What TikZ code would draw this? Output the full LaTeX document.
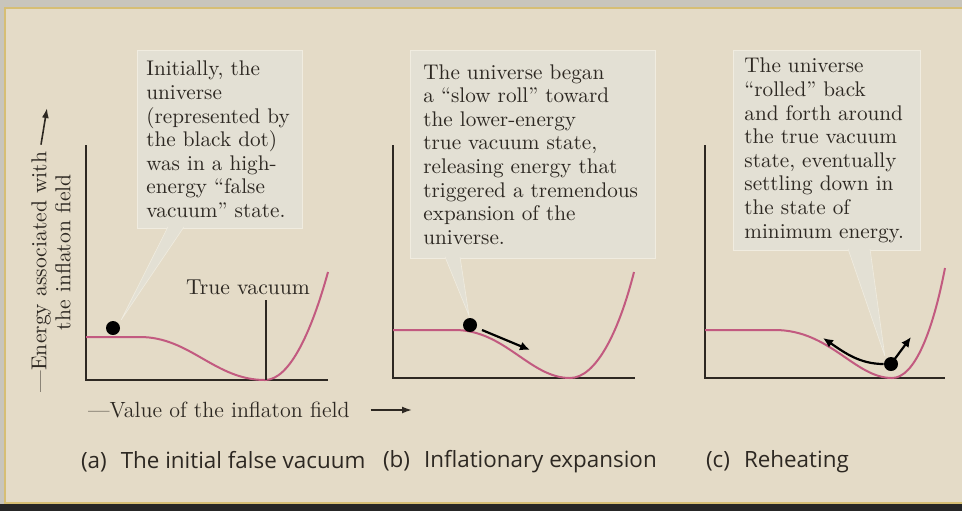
\documentclass[tikz,border=0pt]{standalone}
\usepackage{fontspec}
\newfontfamily\capfont{Open Sans}
\usetikzlibrary{positioning,calc,arrows.meta}
\definecolor{outerbg}{RGB}{200,197,188}
\definecolor{panelbg}{RGB}{228,219,199}
\definecolor{boxbg}{RGB}{227,224,212}
\definecolor{boxline}{RGB}{240,236,224}
\definecolor{rimgold}{RGB}{214,190,116}
\definecolor{potpink}{RGB}{194,90,128}
\definecolor{inkgray}{RGB}{45,40,34}

\begin{document}
\begin{tikzpicture}[x=0.5pt, y=-0.5pt,
    callout/.style={rectangle, draw=boxline, line width=0.4pt, fill=boxbg, anchor=north west, align=left, font=\fontsize{10.6}{11.8}\selectfont, text=inkgray},
    pointer/.style={draw=boxline, fill=boxbg, line width=0.3pt},
    axis/.style={draw=inkgray, line width=0.8pt},
    potential/.style={draw=potpink, line width=1pt},
    ball/.style={circle, fill=black, inner sep=0pt, minimum size=7pt},
    roll/.style={-{Latex[length=5pt,width=4.5pt]}, line width=1.1pt, black},
    axarrow/.style={-{Latex[length=5pt,width=3.5pt]}, line width=0.8pt, inkgray},
    axlabel/.style={font=\fontsize{10.8}{12}\selectfont, text=inkgray},
    caption/.style={anchor=west, font=\capfont\fontsize{11.2}{13}\selectfont, text=inkgray}
]
    \useasboundingbox (0,0) rectangle (962,511);
    % page and panel
    \fill[outerbg] (0,0) rectangle (962,511);
    \fill[black!85] (0,504) rectangle (962,511);
    \filldraw[fill=panelbg, draw=rimgold, line width=1.2pt] (5,8) rectangle (975,503);

    % (a) false vacuum
    \coordinate (a-top) at (86,145);
    \coordinate (a-o) at (86,380);
    \coordinate (a-end) at (328,380);
    \draw[axis] (a-top) -- (a-o) -- (a-end);
    \draw[potential] (86,337) -- (140,337) .. controls (190,337) and (215,380) .. (265,380)
        .. controls (290,380) and (312,330) .. (328,272);
    \coordinate (a-min) at (266,380);
    \coordinate (a-mark) at (266,300);
    \draw[axis, line width=0.6pt] (a-mark) -- (a-min);
    \node[axlabel, above=-1pt of a-mark, xshift=-9pt] (a-tv) {True vacuum};

    \node[callout, inner xsep=4.5pt, text width=73.5pt, minimum height=89pt] (a-note) at (137,50)
        {Initially, the\\universe\\(represented by\\the black dot)\\was in a high-\\energy ``false\\vacuum'' state.};
    \node[ball] (a-ball) at (113,328) {};
    \filldraw[pointer] ($(a-note.south west)+(31,-2)$) -- ($(a-ball.north east)+(3,-3)$) -- ($(a-note.south west)+(47,-2)$);

    % axis labels
    \node[axlabel, rotate=90] (ylab1) at (41,272) {---Energy associated with};
    \node[axlabel, rotate=90] (ylab2) at (63,252) {the inflaton field};
    \coordinate (y-tip) at (47,108);
    \draw[axarrow] (ylab1.east) -- (y-tip);
    \node[axlabel, anchor=west, font=\fontsize{11}{12}\selectfont] (xlab) at (81,410) {---Value of the inflaton field};
    \coordinate (x-tip) at (412,410);
    \draw[axarrow, shorten <=7pt] (xlab.east) -- (x-tip);

    % (b) slow roll
    \coordinate (b-top) at (393,145);
    \coordinate (b-o) at (393,378);
    \coordinate (b-end) at (635,378);
    \draw[axis] (b-top) -- (b-o) -- (b-end);
    \draw[potential] (393,330) -- (455,330) .. controls (505,330) and (530,378) .. (570,378)
        .. controls (595,378) and (618,335) .. (634,272);
    \node[callout, inner xsep=6.5pt, text width=109.5pt, minimum height=104pt] (b-note) at (410,50)
        {The universe began\\a ``slow roll'' toward\\the lower-energy\\true vacuum state,\\releasing energy that\\triggered a tremendous\\expansion of the\\universe.};
    \node[ball] (b-ball) at (470,325) {};
    \filldraw[pointer] ($(b-note.south west)+(35,-2)$) -- ($(b-ball.north)+(-1,-2)$) -- ($(b-note.south west)+(50,-2)$);
    \coordinate (b-roll) at (530,350);
    \draw[roll, shorten <=6.5pt] (b-ball.center) -- (b-roll);

    % (c) reheating
    \coordinate (c-top) at (705,145);
    \coordinate (c-o) at (705,378);
    \coordinate (c-end) at (945,378);
    \draw[axis] (c-top) -- (c-o) -- (c-end);
    \draw[potential] (705,330) -- (775,330) .. controls (830,330) and (855,378) .. (892,378)
        .. controls (915,378) and (933,330) .. (945,268);
    \node[callout, inner xsep=5.5pt, text width=82.5pt, minimum height=100pt] (c-note) at (733,50)
        {The universe\\``rolled'' back\\and forth around\\the true vacuum\\state, eventually\\settling down in\\the state of\\minimum energy.};
    \node[ball] (c-ball) at (891,364) {};
    \filldraw[pointer] ($(c-note.south west)+(115,-2)$) -- ($(c-ball.north west)+(-1,-3)$) -- ($(c-note.south west)+(137,-2)$);
    \coordinate (c-back) at (823,338);
    \coordinate (c-up) at (911,337);
    \draw[roll] (c-ball.west) .. controls (860,364) and (845,353) .. (c-back);
    \draw[roll, shorten <=3pt] (c-ball.center) -- (c-up);

    % captions
    \node[caption] (cap-a) at (74,462) {(a)\hspace{7pt}The initial false vacuum};
    \node[caption] (cap-b) at (376,462) {(b)\hspace{7pt}Inflationary expansion};
    \node[caption] (cap-c) at (699,462) {(c)\hspace{7pt}Reheating};
\end{tikzpicture}
\end{document}
